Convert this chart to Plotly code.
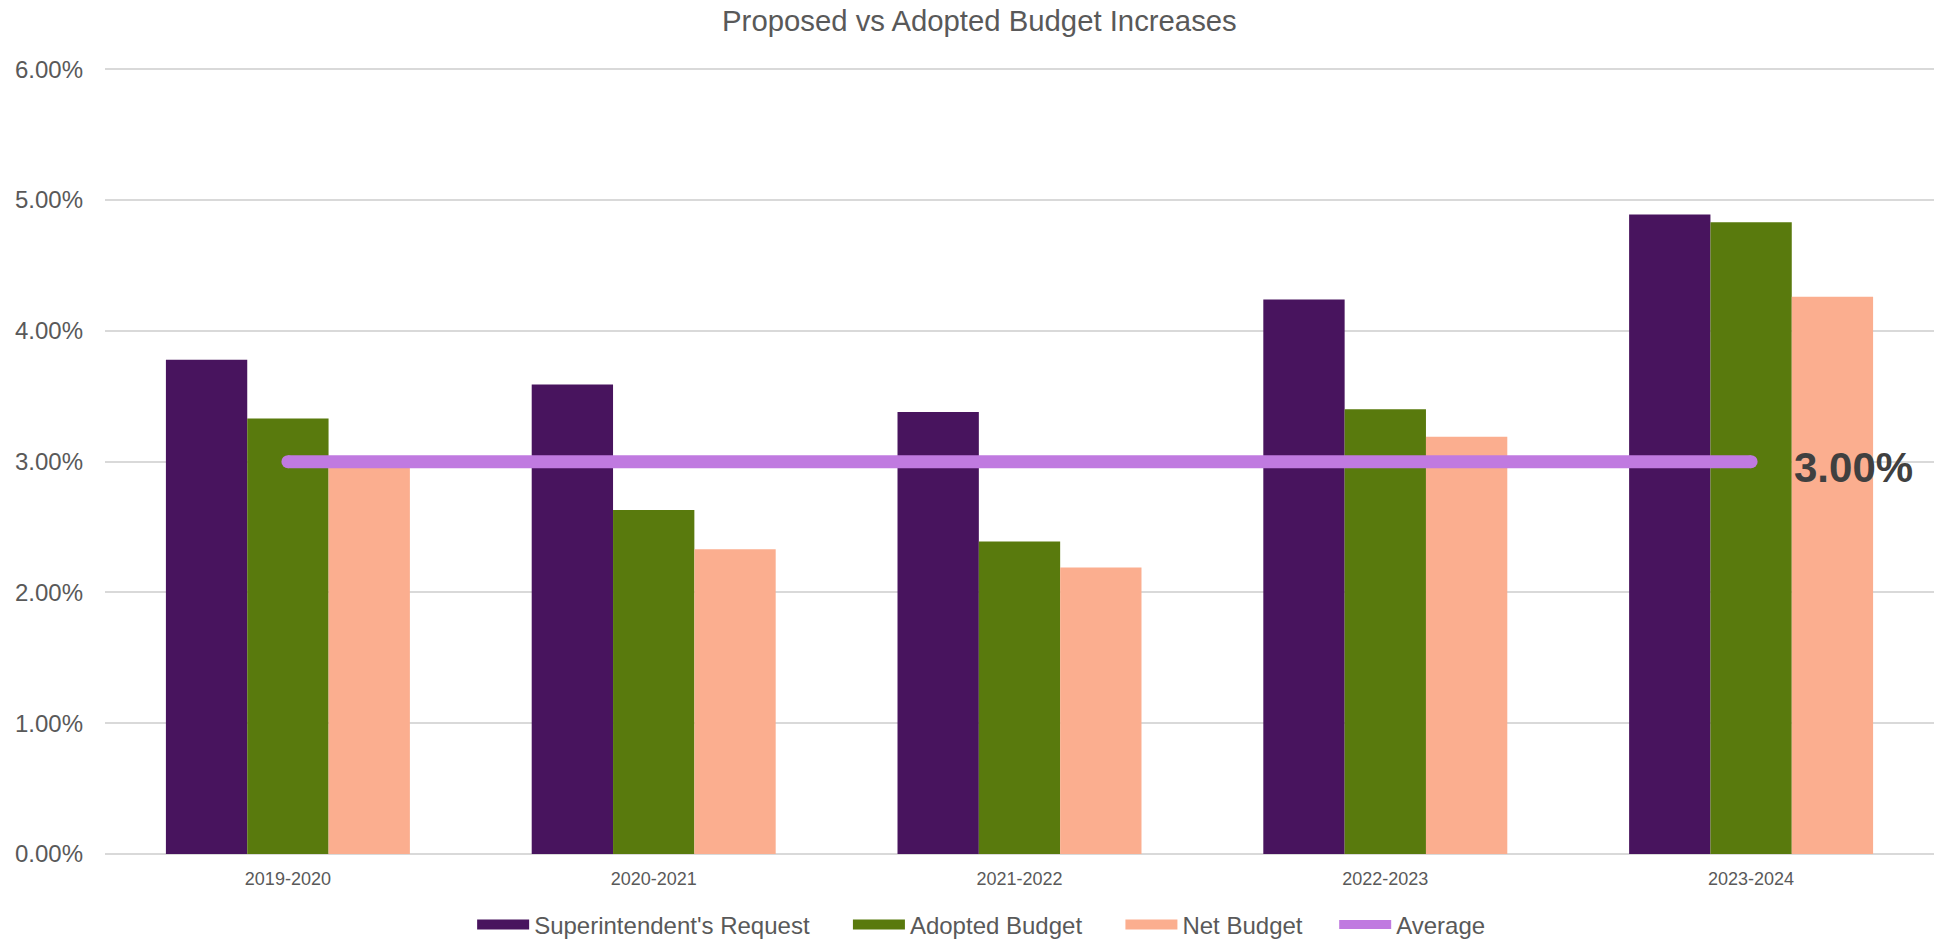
import plotly.graph_objects as go

categories = ["2019-2020", "2020-2021", "2021-2022", "2022-2023", "2023-2024"]
superintendent_request = [0.0378, 0.0359, 0.0338, 0.0424, 0.0489]
adopted_budget = [0.0333, 0.0263, 0.0239, 0.0340, 0.0483]
net_budget = [0.0297, 0.0233, 0.0219, 0.0319, 0.0426]
average = [0.03, 0.03, 0.03, 0.03, 0.03]
y_ticks = [0, 0.01, 0.02, 0.03, 0.04, 0.05, 0.06]

PURPLE = "#48145E"
GREEN = "#597A0D"
PINK = "#FBAE8F"
LILAC = "#C07AE0"
TEXT = "#595959"
PADS = ["\u00a0" * 5, "\u00a0" * 5, "\u00a0" * 4]

fig = go.Figure()
series = [("Superintendent's Request", superintendent_request, PURPLE),
          ("Adopted Budget", adopted_budget, GREEN),
          ("Net Budget", net_budget, PINK)]
for name, vals, col in series:
    fig.add_trace(go.Bar(x=categories, y=vals, name=name, showlegend=False,
                         marker=dict(color=col, line=dict(width=0))))
fig.add_trace(go.Scatter(x=categories, y=average, name="Average", mode="lines",
                         showlegend=False, line=dict(color=LILAC, width=13)))
# rounded end caps
fig.add_trace(go.Scatter(x=[categories[0], categories[-1]], y=[average[0], average[-1]],
                         mode="markers", showlegend=False, hoverinfo="skip",
                         marker=dict(color=LILAC, size=13, line=dict(width=0))))

# legend entries (wide swatches)
for (name, vals, col), pad in zip(series, PADS):
    fig.add_trace(go.Scatter(x=[None], y=[None], name=name + pad, mode="lines",
                             line=dict(color=col, width=13)))
fig.add_trace(go.Scatter(x=[None], y=[None], name="Average", mode="lines",
                         line=dict(color=LILAC, width=9)))

fig.add_annotation(x=categories[-1], y=average[-1], text="<b>3.00%</b>",
                   showarrow=False, xanchor="left", yanchor="middle",
                   xshift=41, yshift=-6,
                   font=dict(family="Arial, Liberation Sans", size=42, color="#404040"))

fig.update_layout(
    width=1941, height=940,
    paper_bgcolor="white", plot_bgcolor="white",
    font=dict(family="Arial, Liberation Sans", color=TEXT),
    title=dict(text="Proposed vs Adopted Budget Increases", x=0.5046, xanchor="center",
               y=0.978, yanchor="middle", font=dict(size=29.3, color=TEXT)),
    margin=dict(l=105, r=7, t=68, b=86, autoexpand=False),
    barmode="group", bargap=0.333, bargroupgap=0,
    showlegend=True,
    legend=dict(orientation="h", x=0.4793, xanchor="center", y=-0.0903, yanchor="middle",
                font=dict(size=24, color=TEXT), itemwidth=52,
                traceorder="normal"),
    xaxis=dict(showgrid=False, showline=False, ticks="", ticklabelstandoff=12,
               tickfont=dict(size=18, color=TEXT)),
    yaxis=dict(range=[0, 0.0601], tickvals=y_ticks, tickformat=".2%",
               showgrid=True, gridcolor="#D9D9D9", gridwidth=2,
               zeroline=True, zerolinecolor="#D9D9D9", zerolinewidth=2,
               showline=False, ticks="", ticklabelstandoff=21,
               tickfont=dict(size=24, color=TEXT)),
)

fig.write_html("out.html", config={"displayModeBar": False},
               post_script="document.body.style.margin='0';document.body.style.overflow='hidden';")
